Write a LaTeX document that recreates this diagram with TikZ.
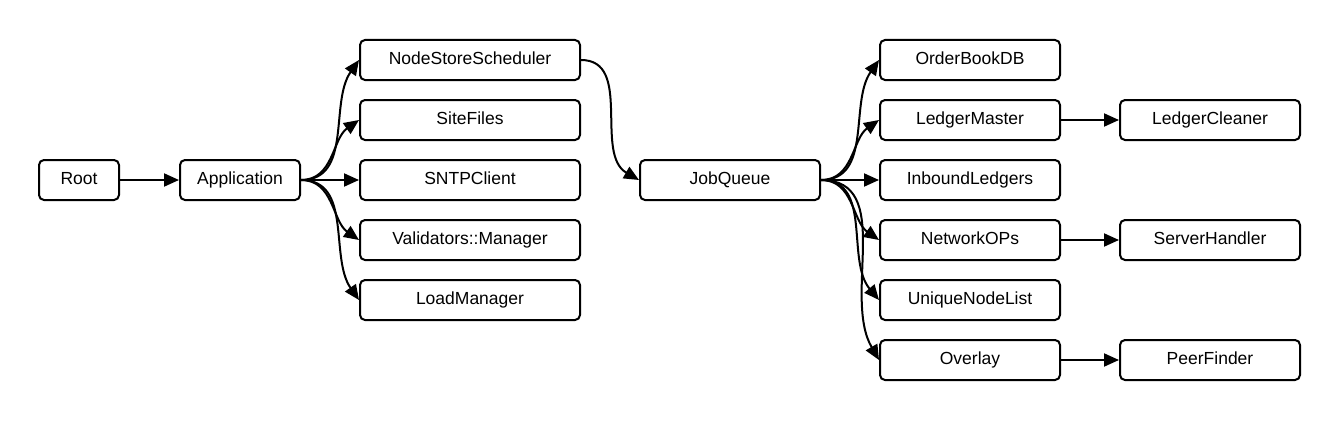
\documentclass[tikz,border=0pt]{standalone}
\usepackage{fontspec}
\setmainfont{Liberation Sans}
\usetikzlibrary{arrows.meta}
\begin{document}
\begin{tikzpicture}[x=1pt,y=-1pt,
  box/.style={draw,line width=2pt,rounded corners=5pt,minimum height=40pt,inner sep=0pt,text height=12.5pt,text depth=3.5pt,font=\fontsize{17.5}{20}\selectfont},
  conn/.style={line width=2pt,-{Triangle[length=15pt,width=13pt]}}]
\useasboundingbox (0,0) rectangle (1340,420);
\node[box,minimum width=80pt]  (root) at (79,180) {Root};
\node[box,minimum width=120pt] (app) at (240,180) {Application};
\node[box,minimum width=220pt] (nss) at (470,60) {NodeStoreScheduler};
\node[box,minimum width=220pt] (sf) at (470,120) {SiteFiles};
\node[box,minimum width=220pt] (sntp) at (470,180) {SNTPClient};
\node[box,minimum width=220pt] (val) at (470,240) {Validators::Manager};
\node[box,minimum width=220pt] (lm) at (470,300) {LoadManager};
\node[box,minimum width=180pt] (jq) at (730,180) {JobQueue};
\node[box,minimum width=180pt] (ob) at (970,60) {OrderBookDB};
\node[box,minimum width=180pt] (ledm) at (970,120) {LedgerMaster};
\node[box,minimum width=180pt] (inb) at (970,180) {InboundLedgers};
\node[box,minimum width=180pt] (nop) at (970,240) {NetworkOPs};
\node[box,minimum width=180pt] (unl) at (970,300) {UniqueNodeList};
\node[box,minimum width=180pt] (ovl) at (970,360) {Overlay};
\node[box,minimum width=180pt] (lc) at (1210,120) {LedgerCleaner};
\node[box,minimum width=180pt] (sh) at (1210,240) {ServerHandler};
\node[box,minimum width=180pt] (pf) at (1210,360) {PeerFinder};
\draw[conn] (root) -- (app);
\draw[conn] (app.east) to[out=0,in=235] (nss.west);
\draw[conn] (app.east) to[out=0,in=215] (sf.west);
\draw[conn] (app.east) -- (sntp.west);
\draw[conn] (app.east) to[out=0,in=145] (val.west);
\draw[conn] (app.east) to[out=0,in=125] (lm.west);
\draw[conn] (nss.east) to[out=0,in=150] (jq.west);
\draw[conn] (jq.east) to[out=0,in=235] (ob.west);
\draw[conn] (jq.east) to[out=0,in=215] (ledm.west);
\draw[conn] (jq.east) -- (inb.west);
\draw[conn] (jq.east) to[out=0,in=145] (nop.west);
\draw[conn] (jq.east) to[out=0,in=130] (unl.west);
\draw[conn] (jq.east) to[out=0,in=120] (ovl.west);
\draw[conn] (ledm) -- (lc);
\draw[conn] (nop) -- (sh);
\draw[conn] (ovl) -- (pf);
\end{tikzpicture}
\end{document}
